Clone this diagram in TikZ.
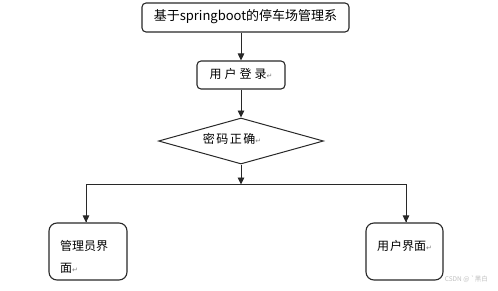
\documentclass[tikz,border=0pt]{standalone}
\usepackage{fontspec}
\newfontfamily\cjk{Noto Sans CJK SC}
\newfontfamily\dv{DejaVu Sans}
\usetikzlibrary{shapes.geometric,arrows.meta}
\definecolor{linec}{RGB}{40,40,40}
\newcommand{\pmark}{{\dv\fontsize{7}{7}\selectfont\color{gray}↵}}
\begin{document}
\begin{tikzpicture}[x=1pt,y=-1pt,
  box/.style={draw=linec,line width=1.1pt,rounded corners=4pt,inner sep=0pt},
  bigbox/.style={draw=linec,line width=1.1pt,rounded corners=8pt,inner sep=0pt},
  lbl/.style={inner sep=0pt,font=\cjk\fontsize{12}{14}\selectfont,text=black},
  conn/.style={draw=linec,line width=0.9pt},
  arr/.style={conn,-{Triangle[length=7pt,width=6.5pt]}}]
\useasboundingbox (0,0) rectangle (498,290);
% boxes
\node[box,minimum width=207pt,minimum height=29pt] (title) at (245.5,17.5) {};
\node[lbl,font=\cjk\fontsize{13}{15}\selectfont] (titletext) at (245.5,17) {基于springboot的停车场管理系};
\node[box,minimum width=88pt,minimum height=28pt] (login) at (241,75) {};
\node[lbl] (logintext) at (241,74) {用\hspace{3pt}户\hspace{3pt}登\hspace{3pt}录\pmark};
\node[draw=linec,line width=1pt,diamond,minimum width=165pt,minimum height=46pt,inner sep=0pt] (check) at (241,141) {};
\node[lbl] (checktext) at (232,139) {密\hspace{1.5pt}码\hspace{1.5pt}正\hspace{1.5pt}确\pmark};
\node[bigbox,minimum width=78pt,minimum height=57pt] (admin) at (88,251.5) {};
\node[lbl,anchor=west] (admintext1) at (60,246) {管理员界};
\node[lbl,anchor=west] (admintext2) at (60,268) {面\pmark};
\node[bigbox,minimum width=77pt,minimum height=57pt] (user) at (404.5,251.5) {};
\node[lbl,anchor=west] (usertext) at (377,246) {用\hspace{1pt}户界面\pmark};
% watermark
\node[inner sep=0pt,font=\cjk\fontsize{6.5}{7}\selectfont,text=black!25,anchor=east] (wm) at (488,279) {CSDN @ `黑白};
% connectors
\coordinate (j) at (241,184.5);
\draw[arr] (login.north |- title.south) -- (login.north);
\draw[arr] (login.south) -- (check.north);
\draw[arr] (check.south) -- (j);
\draw[conn] (j) -| ([xshift=-2pt]admin.north);
\draw[arr] ([xshift=-2pt]admin.north |- j) -- ([xshift=-2pt]admin.north);
\draw[conn] (j) -| ([xshift=1.5pt]user.north);
\draw[arr] ([xshift=1.5pt]user.north |- j) -- ([xshift=1.5pt]user.north);
\end{tikzpicture}
\end{document}
